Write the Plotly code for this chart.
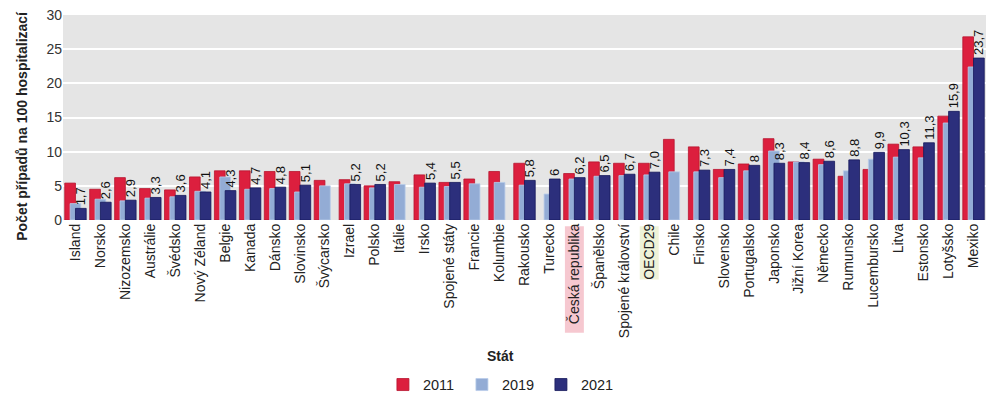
import plotly.graph_objects as go

# data (missing values = None)
staty = ["Island", "Norsko", "Nizozemsko", "Austrálie", "Švédsko", "Nový Zéland", "Belgie",
         "Kanada", "Dánsko", "Slovinsko", "Švýcarsko", "Izrael", "Polsko", "Itálie", "Irsko",
         "Spojené státy", "Francie", "Kolumbie", "Rakousko", "Turecko", "Česká republika",
         "Španělsko", "Spojené království", "OECD29", "Chile", "Finsko", "Slovensko",
         "Portugalsko", "Japonsko", "Jižní Korea", "Německo", "Rumunsko", "Lucembursko",
         "Litva", "Estonsko", "Lotyšsko", "Mexiko"]

r2011 = [5.4, 4.5, 6.2, 4.6, 4.4, 6.3, 7.2, 7.2, 7.1, 7.1, 5.8, 5.9, 5.0, 5.6, 6.6,
         5.5, 6.0, 7.1, 8.3, None, 6.8, 8.5, 8.3, 8.3, 11.8, 10.7, 7.4, 8.2, 11.9,
         8.5, 8.9, 6.4, 7.4, 11.1, 10.7, 15.2, 26.8]
r2019 = [2.4, 3.05, 2.8, 3.2, 3.4, 4.2, 6.3, 4.5, 4.6, 4.1, 5.0, 5.3, 4.7, 5.2, 4.8,
         4.9, 5.3, 5.5, 5.1, 3.8, 6.0, 6.4, 6.5, 6.6, 7.05, 7.05, 6.2, 7.2, 10.1,
         8.5, 8.1, 7.2, 8.9, 9.2, 9.1, 14.2, 22.4]
r2021 = [1.7, 2.6, 2.9, 3.3, 3.6, 4.1, 4.3, 4.7, 4.8, 5.1, None, 5.2, 5.2, None, 5.4,
         5.5, None, None, 5.8, 6.0, 6.2, 6.5, 6.7, 7.0, None, 7.3, 7.4, 8.0, 8.3,
         8.4, 8.6, 8.8, 9.9, 10.3, 11.3, 15.9, 23.7]
popisky2021 = ["1,7", "2,6", "2,9", "3,3", "3,6", "4,1", "4,3", "4,7", "4,8", "5,1", "", "5,2",
               "5,2", "", "5,4", "5,5", "", "", "5,8", "6", "6,2", "6,5", "6,7", "7,0", "",
               "7,3", "7,4", "8", "8,3", "8,4", "8,6", "8,8", "9,9", "10,3", "11,3", "15,9", "23,7"]

# highlighted tick labels: colour and how far the box reaches down (paper units)
zvyraznene = {"Česká republika": ("#f6c8d0", -0.55), "OECD29": ("#eef2d8", -0.29)}

font = "Arial, Liberation Sans, sans-serif"
w = 0.43

fig = go.Figure()
fig.add_trace(go.Bar(x=staty, y=r2011, name="2011", width=w, offset=-w,
                     marker=dict(color="#dc1f3e", line=dict(color="#b8142f", width=0.8))))
fig.add_trace(go.Bar(x=staty, y=r2019, name="2019", width=w, offset=-w / 2,
                     marker=dict(color="#93acd5", line=dict(color="#b9cdea", width=0.8))))
fig.add_trace(go.Bar(x=staty, y=r2021, name="2021", width=w, offset=0,
                     marker=dict(color="#2c2f7c", line=dict(color="#15185a", width=0.8)),
                     text=popisky2021, textposition="outside", textangle=-90,
                     constraintext="none", cliponaxis=False,
                     textfont=dict(size=13, color="#111", family=font)))

for stat, (barva, dolni) in zvyraznene.items():
    i = staty.index(stat)
    fig.add_shape(type="rect", xref="x", yref="paper", x0=i - 0.38, x1=i + 0.38,
                  y0=-0.03, y1=dolni, fillcolor=barva, line_width=0, layer="below")

fig.add_annotation(text="<b>Stát</b>", xref="paper", yref="paper", x=0.4735, y=-0.663,
                   xanchor="center", yanchor="middle", showarrow=False,
                   font=dict(size=14, color="#222"))
fig.add_annotation(text="<b>Počet případů na 100 hospitalizací</b>", xref="paper", yref="paper",
                   x=-0.0444, y=0.46, xanchor="center", yanchor="middle", textangle=-90,
                   showarrow=False, font=dict(size=14, color="#222"))

fig.update_layout(
    width=1000, height=413,
    margin=dict(l=63, r=14, t=15, b=190),
    barmode="overlay",
    plot_bgcolor="#e5e5e5",
    paper_bgcolor="white",
    font=dict(family=font, color="#222"),
    showlegend=True,
    legend=dict(orientation="h", x=0.475, xanchor="center", y=-0.803, yanchor="middle",
                font=dict(size=14.5, color="#222"), traceorder="normal",
                itemwidth=30, entrywidth=34, entrywidthmode="pixels"),
)
fig.update_xaxes(tickangle=-90, tickfont=dict(size=14, color="#222"), ticks="",
                 automargin=False, range=[-0.5, len(staty) - 0.5])
fig.update_yaxes(range=[0, 30], dtick=5, gridcolor="white", gridwidth=2,
                 tickfont=dict(size=14, color="#333"), zeroline=False, automargin=False)

# drop the default 8px page margin so the figure fills the window
fig.write_html("out.html", config={"displayModeBar": False},
               post_script="document.body.style.margin = '0';")
